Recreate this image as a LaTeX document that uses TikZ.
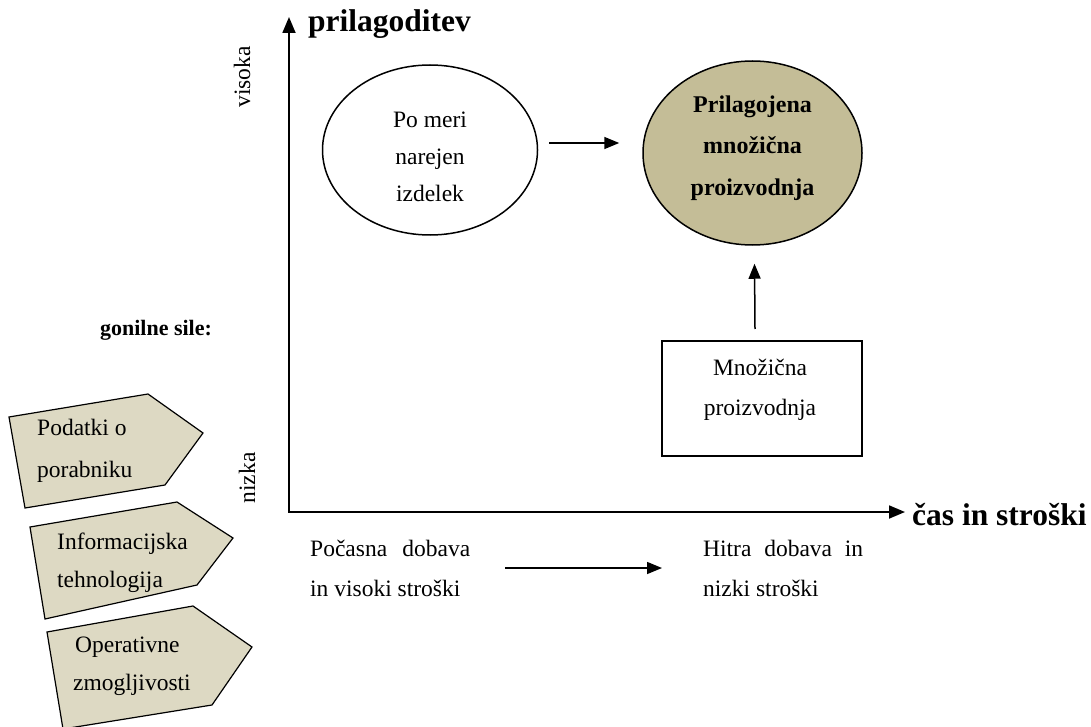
\documentclass[tikz,border=0pt]{standalone}
\usepackage{fontspec}
\setmainfont{Liberation Serif}
\usetikzlibrary{arrows.meta,shapes.geometric}
\definecolor{tanfill}{RGB}{196,189,151}
\definecolor{pentfill}{RGB}{221,217,195}
\begin{document}
\begin{tikzpicture}[x=1pt,y=-1pt,
  axisline/.style={line width=1.8pt,
    {Triangle[length=16pt,width=13pt]}-{Triangle[length=16pt,width=13pt]}},
  conn/.style={line width=1.5pt,-{Triangle[length=15pt,width=12pt]}},
  txt/.style={font=\fontsize{23.5}{37}\selectfont,inner sep=0pt},
  bold/.style={font=\bfseries\fontsize{24}{41.5}\selectfont,inner sep=0pt},
  title/.style={font=\bfseries\fontsize{31.5}{36}\selectfont,inner sep=0pt},
  pent/.style={draw,line width=1.2pt,fill=pentfill,line join=miter},
  oval/.style={ellipse,draw,line width=1.5pt,inner sep=0pt}]
\useasboundingbox (0,0) rectangle (1091,727);

% axes
\coordinate (O) at (289,512);
\coordinate (ytop) at (289,17);
\coordinate (xend) at (905,512);
\draw[axisline] (ytop) -- (O) -- (xend);
\node[title,anchor=base west] (ylab) at (308,32) {prilagoditev};
\node[title,anchor=base west] (xlab) at (912,525) {čas in stroški};
\node[txt,rotate=90] (high) at (242,77) {visoka};
\node[txt,rotate=90] (low) at (247,478) {nizka};

% custom product and mass customisation
\node[oval,fill=white,minimum width=215pt,minimum height=170pt] (custom) at (430,150) {};
\node[txt,align=center] (customlbl) at (430,157) {Po meri\\narejen\\izdelek};
\node[oval,fill=tanfill,minimum width=219pt,minimum height=184pt] (mcust) at (752.5,153) {};
\node[bold,align=center] (mcustlbl) at (752.5,148) {Prilagojena\\množična\\proizvodnja};

% mass production
\node[draw,line width=2pt,minimum width=200pt,minimum height=115pt,inner sep=0pt] (mass) at (762,398.5) {};
\node[txt,align=center,font=\fontsize{23.5}{40}\selectfont] (masslbl) at (760,389.5) {Množična\\proizvodnja};

\draw[conn] ([shift={(11,-7)}]custom.east) -- ([shift={(-23,-10)}]mcust.west);
\draw[conn] ([shift={(-7,-11)}]mass.north) -- ([shift={(2,18)}]mcust.south);

% delivery and cost
\node[txt,align=left,anchor=west,font=\fontsize{23.5}{40}\selectfont] (slow) at (310,568)
  {\makebox[160pt][s]{Počasna dobava}\\in visoki stroški};
\node[txt,align=left,anchor=west,font=\fontsize{23.5}{40}\selectfont] (fast) at (703,568)
  {\makebox[160pt][s]{Hitra dobava in}\\nizki stroški};
\draw[conn] ([xshift=35pt]slow.east) -- ([xshift=-41pt]fast.west);

% driving forces
\node[font=\bfseries\fontsize{22}{26}\selectfont,inner sep=0pt,anchor=base] (drivers) at (156,335) {gonilne sile:};
\draw[pent] (9,417) -- (148,394) -- (203,433) -- (165,485) -- (25,508) -- cycle;
\draw[pent] (30,527) -- (177,502) -- (233,538) -- (197,585) -- (45,619) -- cycle;
\draw[pent] (47,632) -- (193,606) -- (252,647) -- (212,705) -- (63,729) -- cycle;
\node[txt,anchor=base west] (d1a) at (37,435) {Podatki o};
\node[txt,anchor=base west] (d1b) at (37,477) {porabniku};
\node[txt,anchor=base west] (d2a) at (57,549) {Informacijska};
\node[txt,anchor=base west] (d2b) at (57,587) {tehnologija};
\node[txt,anchor=base west] (d3a) at (75,652) {Operativne};
\node[txt,anchor=base west] (d3b) at (73,690) {zmogljivosti};
\end{tikzpicture}
\end{document}
